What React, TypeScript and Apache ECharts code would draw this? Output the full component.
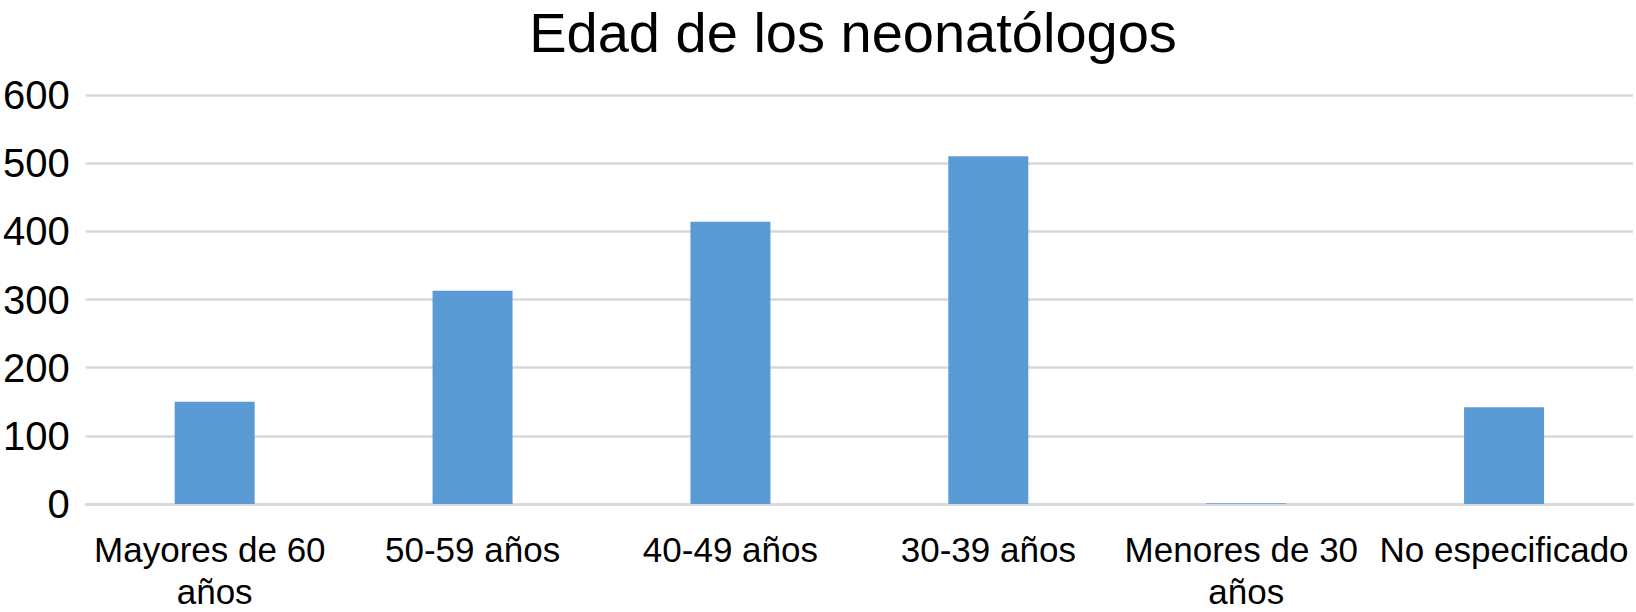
import React, { useEffect, useRef } from "react";
import * as echarts from "echarts";

const titleText = "Edad de los neonatólogos";
const categories = [
  "Mayores de 60 años",
  "50-59 años",
  "40-49 años",
  "30-39 años",
  "Menores de 30 años",
  "No especificado",
];
const values = [150, 313, 414, 510, 1, 142];
const yTicks = { min: 0, max: 600, interval: 100 };

const FONT = "'Liberation Sans', Arial, Helvetica, sans-serif";

export default function App() {
  const ref = useRef<HTMLDivElement>(null);
  useEffect(() => {
    if (!ref.current) return;
    const chart = echarts.init(ref.current, null, { renderer: "svg" });
    chart.setOption({
      animation: false,
      backgroundColor: "#ffffff",
      title: {
        text: titleText,
        left: 848,
        textAlign: "center",
        top: -1,
        textStyle: {
          fontFamily: FONT,
          fontSize: 56,
          fontWeight: "normal",
          color: "#000000",
        },
      },
      grid: { left: 83, right: 3, top: 95, bottom: 108, containLabel: false },
      xAxis: {
        type: "category",
        data: categories,
        axisLine: { show: true, lineStyle: { color: "#D9D9D9", width: 2.5 } },
        axisTick: { show: false },
        axisLabel: {
          interval: 0,
          color: "#000000",
          fontFamily: FONT,
          fontSize: 35,
          lineHeight: 42,
          margin: 24,
          width: 256,
          overflow: "break",
        },
      },
      yAxis: {
        type: "value",
        min: yTicks.min,
        max: yTicks.max,
        interval: yTicks.interval,
        axisLine: { show: false },
        axisTick: { show: false },
        splitLine: { lineStyle: { color: "#D9D9D9", width: 2.5 } },
        axisLabel: {
          color: "#000000",
          fontFamily: FONT,
          fontSize: 40,
          margin: 16,
        },
      },
      series: [
        {
          type: "bar",
          data: values,
          barWidth: 80,
          itemStyle: { color: "#5B9BD5" },
        },
      ],
    });
    return () => chart.dispose();
  }, []);
  return (
    <div
      ref={ref}
      style={{ position: "absolute", left: 0, top: 0, width: 1636, height: 612 }}
    />
  );
}
